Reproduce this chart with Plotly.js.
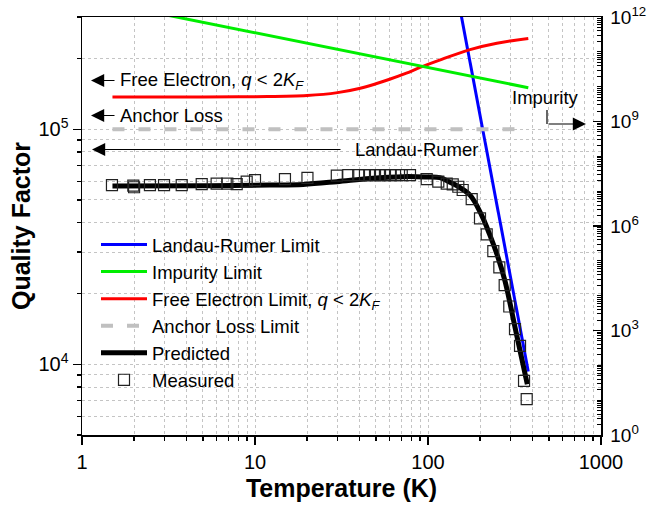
<!DOCTYPE html>
<html>
<head>
<meta charset="utf-8">
<script src="https://cdn.plot.ly/plotly-3.0.1.min.js"></script>
<style>html,body{margin:0;padding:0;background:#fff;}#chart{width:662px;height:510px;}</style>
</head>
<body>
<div id="chart"></div>
<script>
// ---- data ----
const T_LR = [150, 250, 380];
const Q_LR = [352000, 47900, 9310];

const T_IMP = [1.5, 380];
const Q_IMP = [2.34e12, 9.33e9];   // right axis

const T_FE = [1.5, 5, 10, 20, 30, 40, 50, 60, 75, 90, 120, 175, 250, 380];
const Q_FE = [137000, 137000, 137500, 139000, 143000, 149000, 156000, 163000, 173000, 183000, 198000, 218000, 232000, 243000];

const T_AL = [1.5, 380];
const Q_AL = [100000, 100000];

const T_PRED = [1.5, 5, 12.2, 19, 29.7, 46, 72, 98, 117, 134, 146.5, 175, 204, 228, 255, 279, 325.6, 375];
const Q_PRED = [57300, 57500, 57800, 58200, 59800, 61700, 62800, 62600, 62200, 59500, 57500, 52400, 43100, 35400, 28200, 22500, 13300, 8220];

const T_MEAS = [1.49, 1.98, 2.0, 2.47, 2.98, 3.77, 4.92, 6.0, 6.92, 7.84, 8.95, 10.0, 14.9, 20.1, 29.7, 34.6, 39.5, 43.2, 46.2, 49.4, 52.8, 56.4, 60.3, 64.5, 70.5, 78.7, 98.3, 114.7, 128.3, 139, 149.7, 158.7, 178.9, 199.8, 218.4, 238.5, 258.4, 277.5, 295, 318.3, 340.4, 359, 372];
const Q_MEAS = [57800, 57500, 56600, 57800, 57800, 57800, 58400, 58700, 58700, 58400, 59800, 60700, 61300, 62100, 63400, 63800, 63800, 63800, 63800, 63800, 63800, 63800, 63800, 63800, 63800, 63800, 61300, 59800, 58700, 58200, 56900, 55100, 50400, 41700, 35700, 30300, 25800, 21700, 17600, 14100, 11970, 8490, 7110];

const X_TICKS = [1, 10, 100, 1000];
const X_TICKTEXT = ['1', '10', '100', '1000'];
const YL_TICKS = [1e4, 1e5];
const YL_TICKTEXT = ['10<sup>4</sup>', '10<sup>5</sup>'];
const YR_TICKS = [1, 1e3, 1e6, 1e9, 1e12];
const YR_TICKTEXT = ['10<sup>0</sup>', '10<sup>3</sup>', '10<sup>6</sup>', '10<sup>9</sup>', '10<sup>12</sup>'];

// minor tick positions
function minorLog(d0, d1, lo, hi) {
  const out = [];
  for (let d = d0; d <= d1; d++) {
    for (let m = 1; m <= 9; m++) {
      const v = m * Math.pow(10, d);
      if (v >= lo && v <= hi) out.push(v);
    }
  }
  return out;
}
const xMinor = minorLog(0, 2, 1, 1000).filter(v => X_TICKS.indexOf(v) < 0);
const ylMinor = minorLog(3, 5, 5000, 3e5).filter(v => YL_TICKS.indexOf(v) < 0);
const yrMinor = minorLog(0, 11, 1, 1e12).filter(v => YR_TICKS.indexOf(v) < 0);

const FONT = 'Liberation Sans, Arial, sans-serif';
const GRID = '#c4c4c4';

const traces = [
  {x: T_LR, y: Q_LR, mode: 'lines', name: 'Landau-Rumer Limit', legendgroup: 'a',
   line: {color: '#0000ff', width: 3}},
  {x: T_IMP, y: Q_IMP, yaxis: 'y2', mode: 'lines', name: 'Impurity Limit', legendgroup: 'b',
   line: {color: '#00ee00', width: 3}},
  {x: T_FE, y: Q_FE, mode: 'lines', name: 'Free Electron Limit, <i>q</i> &lt; 2<i>K</i><sub><i>F</i></sub>', legendgroup: 'c',
   line: {color: '#ff0000', width: 3, shape: 'spline'}},
  {x: T_AL, y: Q_AL, mode: 'lines', name: 'Anchor Loss Limit', legendgroup: 'd',
   line: {color: '#c0c0c0', width: 4, dash: '12px,14px'}},
  {x: T_PRED, y: Q_PRED, mode: 'lines', name: 'Predicted', legendgroup: 'e',
   line: {color: '#000000', width: 5, shape: 'spline'}},
  {x: T_MEAS, y: Q_MEAS, mode: 'markers', name: 'Measured', legendgroup: 'f',
   marker: {symbol: 'square-open', size: 11, color: '#222222', line: {width: 1.2}}}
];

function px(x) { return (x - 82) / 519; }
function py(y) { return (435 - y) / 418; }

const annFont = {family: FONT, size: 18.5, color: '#000'};
const arrowBase = {xref: 'paper', yref: 'paper', text: '', showarrow: true, arrowhead: 2,
  arrowsize: 2.2, arrowwidth: 1.2, arrowcolor: '#000', axref: 'pixel', ayref: 'pixel', ay: 0};

const annotations = [
  Object.assign({}, arrowBase, {x: px(91), y: py(80.5), ax: 25}),
  {xref: 'paper', yref: 'paper', x: px(118), y: py(80.5), xanchor: 'left', yanchor: 'middle',
   text: 'Free Electron, <i>q</i> &lt; 2<i>K</i><sub><i>F</i></sub>', showarrow: false, font: annFont},
  Object.assign({}, arrowBase, {x: px(91), y: py(115.5), ax: 25}),
  {xref: 'paper', yref: 'paper', x: px(118), y: py(115.5), xanchor: 'left', yanchor: 'middle',
   text: 'Anchor Loss', showarrow: false, font: annFont},
  Object.assign({}, arrowBase, {x: px(92), y: py(149.5), ax: 250}),
  {xref: 'paper', yref: 'paper', x: px(353), y: py(149.5), xanchor: 'left', yanchor: 'middle',
   text: 'Landau-Rumer', showarrow: false, font: annFont},
  {xref: 'paper', yref: 'paper', x: px(510), y: py(98), xanchor: 'left', yanchor: 'middle',
   text: 'Impurity', showarrow: false, font: annFont},
  Object.assign({}, arrowBase, {x: px(586), y: py(124), ax: -39})
];

const shapes = [
  {type: 'line', xref: 'paper', yref: 'paper', x0: px(547), x1: px(547), y0: py(110), y1: py(124),
   line: {color: '#000', width: 1.2}}
];

const layout = {
  width: 662, height: 510,
  margin: {l: 82, r: 61, t: 17, b: 75, pad: 0},
  paper_bgcolor: '#ffffff', plot_bgcolor: '#ffffff',
  font: {family: FONT, color: '#000'},
  showlegend: true,
  hovermode: false,
  legend: {x: px(96), y: py(226), xanchor: 'left', yanchor: 'top', bgcolor: 'rgba(0,0,0,0)',
    font: {family: FONT, size: 18.5, color: '#000'}, tracegroupgap: 0, traceorder: 'grouped', itemwidth: 46},
  xaxis: {
    type: 'log', range: [0, 3], tickmode: 'array', tickvals: X_TICKS, ticktext: X_TICKTEXT,
    ticks: 'outside', ticklen: 8, tickwidth: 1.3, tickcolor: '#000',
    showline: true, linewidth: 1.5, linecolor: '#000', mirror: true, zeroline: false,
    showgrid: true, gridcolor: GRID, griddash: 'dot', gridwidth: 1,
    minor: {tickmode: 'array', tickvals: xMinor, ticks: 'outside', ticklen: 4, tickwidth: 1.2, tickcolor: '#000',
      showgrid: true, gridcolor: GRID, griddash: 'dot', gridwidth: 1},
    tickfont: {family: FONT, size: 20, color: '#000'},
    title: {text: '<b>Temperature (K)</b>', font: {family: FONT, size: 25, color: '#000'}, standoff: 8}
  },
  yaxis: {
    type: 'log', range: [Math.log10(5000), Math.log10(3e5)], tickmode: 'array', tickvals: YL_TICKS, ticktext: YL_TICKTEXT,
    ticks: 'outside', ticklen: 8, tickwidth: 1.3, tickcolor: '#000',
    showline: true, linewidth: 1.5, linecolor: '#000', mirror: false, zeroline: false,
    showgrid: true, gridcolor: GRID, griddash: 'dot', gridwidth: 1,
    minor: {tickmode: 'array', tickvals: ylMinor, ticks: 'outside', ticklen: 4, tickwidth: 1.2, tickcolor: '#000',
      showgrid: true, gridcolor: GRID, griddash: 'dot', gridwidth: 1},
    tickfont: {family: FONT, size: 20, color: '#000'},
    title: {text: '<b>Quality Factor</b>', font: {family: FONT, size: 25, color: '#000'}, standoff: 0}
  },
  yaxis2: {
    type: 'log', overlaying: 'y', side: 'right', range: [0, 12], tickmode: 'array', tickvals: YR_TICKS, ticktext: YR_TICKTEXT,
    ticks: 'inside', ticklen: 8, tickwidth: 1.3, tickcolor: '#000',
    showline: true, linewidth: 1.5, linecolor: '#000', zeroline: false, showgrid: false,
    minor: {tickmode: 'array', tickvals: yrMinor, ticks: 'inside', ticklen: 4, tickwidth: 1, tickcolor: '#000', showgrid: false},
    tickfont: {family: FONT, size: 19, color: '#000'}, ticklabelstandoff: 4
  },
  annotations: annotations,
  shapes: shapes
};

Plotly.newPlot('chart', traces, layout, {staticPlot: true, displayModeBar: false});
</script>
</body>
</html>
